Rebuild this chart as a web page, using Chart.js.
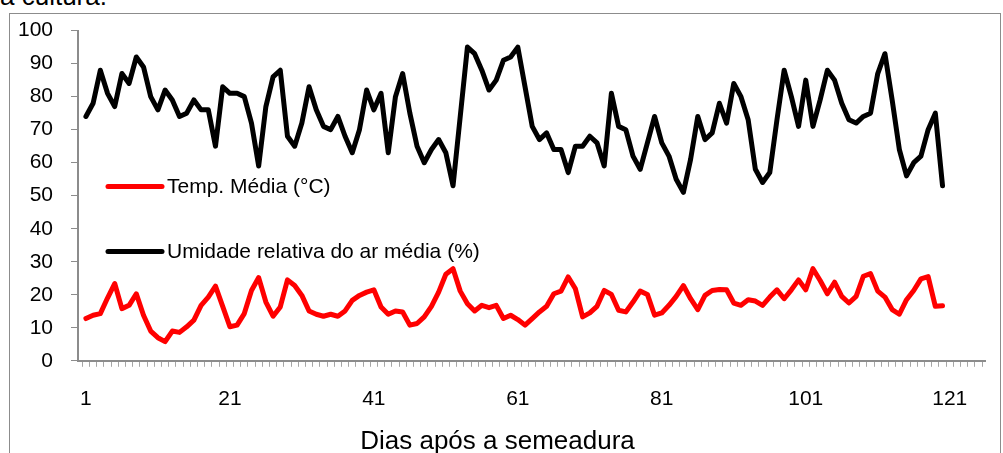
<!DOCTYPE html>
<html>
<head>
<meta charset="utf-8">
<script src="https://cdn.jsdelivr.net/npm/chart.js@4.4.1/dist/chart.umd.min.js"></script>
<style>
  html, body { margin: 0; padding: 0; background: #fff; }
  body { width: 1003px; height: 453px; position: relative; overflow: hidden; font-family: "Liberation Sans", Arial, sans-serif; }
  #caption { position: absolute; left: 0; top: -17px; font-size: 26px; line-height: 1; color: #000; white-space: nowrap; }
  #frame { position: absolute; left: 9px; top: 13px; width: 992px; height: 460px; border: 1px solid #8c8c8c; box-sizing: border-box; }
  #chart { position: absolute; left: 0; top: 0; }
</style>
</head>
<body>
<div id="caption">a cultura.</div>
<div id="frame"></div>
<canvas id="chart" width="1003" height="453"></canvas>
<script>
// days after sowing (one reading per day)
const days = Array.from({ length: 120 }, (_, i) => i + 1);
const xTickLabels = [1, 21, 41, 61, 81, 101, 121];

const tempMedia = [
  12.8, 13.8, 14.3, 19.0, 23.4, 15.8, 16.8, 20.3, 13.8, 9.0,
  7.0, 5.8, 9.0, 8.6, 10.3, 12.3, 16.8, 19.3, 22.6, 16.5,
  10.3, 10.8, 14.3, 21.3, 25.2, 17.8, 13.5, 16.3, 24.5, 22.8,
  19.8, 15.1, 14.1, 13.5, 14.1, 13.5, 15.1, 18.3, 19.8, 20.8,
  21.5, 16.3, 14.1, 15.1, 14.8, 10.8, 11.3, 13.3, 16.5, 20.8,
  26.2, 27.9, 21.1, 17.3, 15.1, 16.8, 16.1, 16.8, 12.8, 13.8,
  12.5, 10.8, 12.8, 14.8, 16.5, 20.3, 21.1, 25.4, 21.8, 13.3,
  14.5, 16.5, 21.3, 20.1, 15.3, 14.8, 17.8, 21.1, 20.1, 13.8,
  14.5, 16.8, 19.5, 22.8, 18.8, 15.5, 19.8, 21.3, 21.6, 21.5,
  17.5, 16.8, 18.5, 18.1, 16.8, 19.3, 21.5, 18.8, 21.5, 24.5,
  21.5, 27.9, 24.3, 20.3, 23.8, 19.5, 17.5, 19.5, 25.6, 26.4,
  21.1, 19.3, 15.5, 14.1, 18.5, 21.3, 24.8, 25.5, 16.5, 16.7
];

const umidadeMedia = [
  74, 78, 88, 81, 77, 87, 84, 92, 89, 80,
  76, 82, 79, 74, 75, 79, 76, 76, 65, 83,
  81, 81, 80, 72, 59, 77, 86, 88, 68, 65,
  72, 83, 76, 71, 70, 74, 68, 63, 70, 82,
  76, 81, 63, 80, 87, 75, 65, 60, 64, 67,
  63, 53, 74, 95, 93, 88, 82, 85, 91, 92,
  95, 83, 71, 67, 69, 64, 64, 57, 65, 65,
  68, 66, 59, 81, 71, 70, 62, 58, 66, 74,
  66, 62, 55, 51, 61, 74, 67, 69, 78, 72,
  84, 80, 73, 58, 54, 57, 73, 88, 80, 71,
  85, 71, 79, 88, 85, 78, 73, 72, 74, 75,
  87, 93, 79, 64, 56, 60, 62, 70, 75, 53
];

const axisGray = '#8c8c8c';
const tickFont = { family: "'Liberation Sans', Arial, sans-serif", size: 21 };

// legend drawn inside the plot, lines + labels stacked on the left
const insideLegend = {
    id: 'insideLegend',
    afterDatasetsDraw(chart) {
        const { ctx, chartArea } = chart;
        const rowsY = [chartArea.top + 156, chartArea.top + 221];
        ctx.save();
        chart.data.datasets.forEach((ds, i) => {
            const y = rowsY[i];
            const x0 = chartArea.left + 30;
            ctx.strokeStyle = ds.borderColor;
            ctx.lineWidth = 5;
            ctx.lineCap = 'round';
            ctx.beginPath();
            ctx.moveTo(x0, y);
            ctx.lineTo(x0 + 54, y);
            ctx.stroke();
            ctx.fillStyle = '#000';
            ctx.font = "21px 'Liberation Sans', Arial, sans-serif";
            ctx.textBaseline = 'middle';
            ctx.fillText(ds.label, x0 + 59, y + 1);
        });
        ctx.restore();
    }
};

const ctx = document.getElementById('chart').getContext('2d');
const chart = new Chart(ctx, {
    type: 'line',
    data: {
        datasets: [{
            label: 'Temp. Média (°C)',
            data: days.map((d, i) => ({ x: d, y: tempMedia[i] })),
            borderColor: '#ff0000',
            borderWidth: 5,
            pointRadius: 0,
            borderJoinStyle: 'round',
            borderCapStyle: 'round',
            tension: 0
        }, {
            label: 'Umidade relativa do ar média (%)',
            data: days.map((d, i) => ({ x: d, y: umidadeMedia[i] })),
            borderColor: '#000000',
            borderWidth: 5,
            pointRadius: 0,
            borderJoinStyle: 'round',
            borderCapStyle: 'round',
            tension: 0
        }]
    },
    options: {
        responsive: false,
        animation: false,
        layout: { padding: { left: 10, right: 18, top: 29, bottom: 0 } },
        scales: {
            x: {
                type: 'linear',
                min: -0.1,
                max: 125.9,
                afterBuildTicks: (scale) => {
                    const t = [];
                    for (let k = 0; k <= 125; k++) t.push({ value: k + 0.5 });
                    xTickLabels.forEach(v => t.push({ value: v }));
                    scale.ticks = t.sort((a, b) => a.value - b.value);
                },
                afterFit: (scale) => { scale.height = 65; },
                ticks: {
                    autoSkip: false,
                    maxRotation: 0,
                    color: '#000',
                    font: tickFont,
                    padding: 20,
                    callback: (v) => xTickLabels.includes(v) ? String(v) : ''
                },
                grid: {
                    drawOnChartArea: false,
                    drawTicks: true,
                    tickLength: 6,
                    lineWidth: 1,
                    tickColor: (c) => (c.tick && Number.isInteger(c.tick.value)) ? 'rgba(0,0,0,0)' : '#a6a6a6'
                },
                border: { color: axisGray, width: 2 }
            },
            y: {
                min: 0,
                max: 100,
                afterFit: (scale) => { scale.width = 68; },
                ticks: { stepSize: 10, color: '#000', font: tickFont, padding: 18 },
                grid: { drawOnChartArea: false, drawTicks: true, tickLength: 7, color: axisGray },
                border: { color: axisGray, width: 2 }
            }
        },
        plugins: {
            legend: { display: false },
            tooltip: { enabled: false },
            title: {
                display: true,
                text: 'Dias após a semeadura',
                position: 'bottom',
                color: '#000',
                font: { family: "'Liberation Sans', Arial, sans-serif", size: 26, weight: 'normal' },
                padding: { top: 0, bottom: -4 }
            }
        }
    },
    plugins: [insideLegend]
});
</script>
</body>
</html>
